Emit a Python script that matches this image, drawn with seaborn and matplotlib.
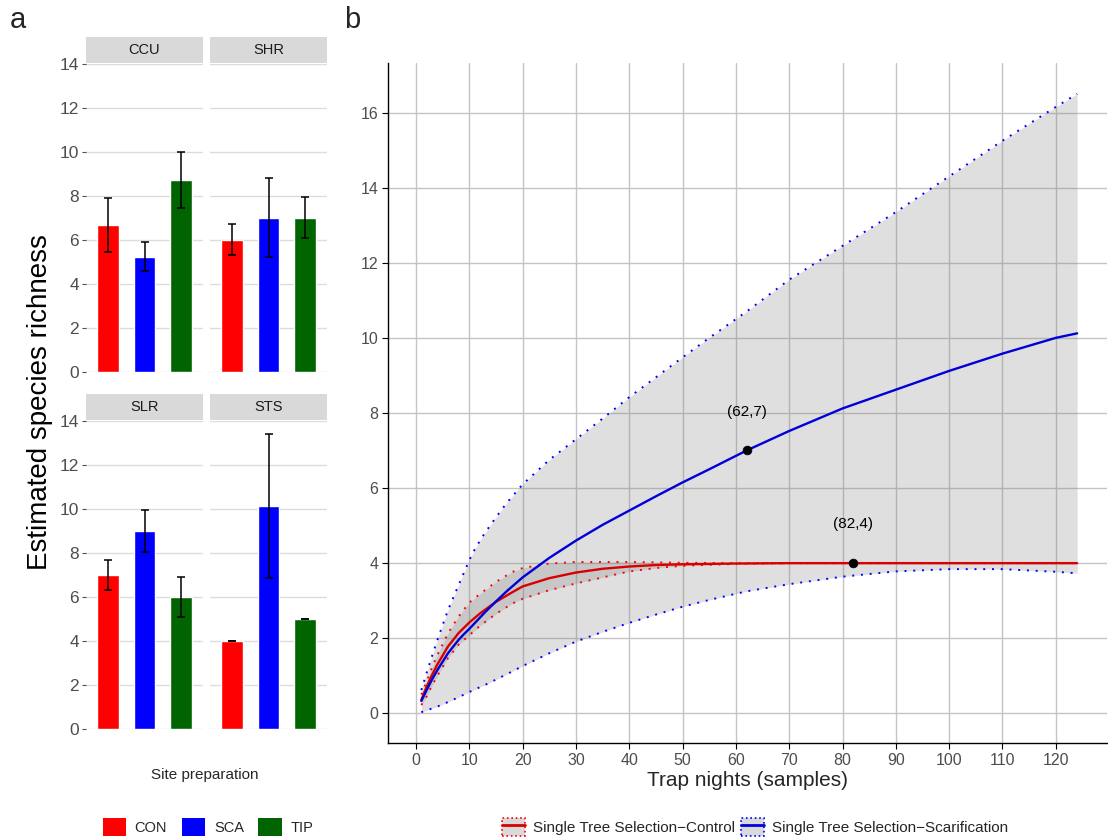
import numpy as np
import pandas as pd
import matplotlib
matplotlib.use("Agg")
import matplotlib.pyplot as plt
import seaborn as sns
from matplotlib.patches import Patch
from matplotlib.lines import Line2D
from matplotlib.legend_handler import HandlerTuple

# ---------------- data: panel a ----------------
sites = ["CCU", "SHR", "SLR", "STS"]
treatments = ["CON", "SCA", "TIP"]
bar_colors = ["#FF0000", "#0000FF", "#006400"]

ccu_est = [6.68, 5.22, 8.72]
ccu_low = [5.46, 4.61, 7.46]
ccu_high = [7.92, 5.91, 10.00]
shr_est = [6.00, 7.00, 7.00]
shr_low = [5.34, 5.22, 6.07]
shr_high = [6.71, 8.82, 7.96]
slr_est = [6.98, 8.98, 5.98]
slr_low = [6.30, 8.03, 5.07]
slr_high = [7.68, 9.96, 6.92]
sts_est = [4.00, 10.12, 5.00]
sts_low = [3.98, 6.86, 4.98]
sts_high = [4.02, 13.42, 5.02]

# ---------------- data: panel b ----------------
ctrl_x = [1, 2, 3, 4, 6, 8, 10, 12, 15, 18, 20, 25, 30, 35, 40, 45, 50, 60, 70, 82, 100, 124]
ctrl_est = [0.36, 0.71, 1.02, 1.30, 1.78, 2.14, 2.42, 2.66, 2.97, 3.22, 3.38, 3.60, 3.75, 3.85, 3.91, 3.95, 3.97, 3.99, 4.00, 4.00, 4.00, 4.00]
ctrl_lcl = [0.22, 0.45, 0.74, 1.00, 1.47, 1.83, 2.08, 2.33, 2.65, 2.92, 3.05, 3.28, 3.46, 3.62, 3.78, 3.87, 3.93, 3.98, 4.00, 4.00, 4.00, 4.00]
ctrl_ucl = [0.50, 0.84, 1.22, 1.55, 2.13, 2.58, 2.95, 3.18, 3.50, 3.76, 3.87, 3.99, 4.03, 4.03, 4.03, 4.02, 4.01, 4.00, 4.00, 4.00, 4.00, 4.00]

scar_x = [1, 2, 3, 4, 6, 8, 9, 10, 11, 12, 13, 15, 17, 20, 25, 30, 35, 40, 45, 50, 55, 62, 70, 80, 90, 100, 110, 120, 124]
scar_est = [0.33, 0.62, 0.90, 1.15, 1.60, 1.96, 2.11, 2.25, 2.40, 2.55, 2.70, 2.98, 3.25, 3.62, 4.14, 4.60, 5.02, 5.40, 5.78, 6.15, 6.50, 7.00, 7.52, 8.12, 8.62, 9.12, 9.58, 10.00, 10.12]
scar_lcl = [0.03, 0.08, 0.13, 0.18, 0.30, 0.43, 0.50, 0.57, 0.63, 0.70, 0.76, 0.90, 1.04, 1.26, 1.60, 1.91, 2.17, 2.41, 2.63, 2.84, 3.02, 3.25, 3.44, 3.64, 3.78, 3.84, 3.84, 3.77, 3.73]
scar_ucl = [0.62, 1.08, 1.52, 1.95, 2.75, 3.42, 3.75, 4.08, 4.36, 4.60, 4.82, 5.22, 5.60, 6.10, 6.75, 7.30, 7.85, 8.42, 8.95, 9.48, 10.00, 10.70, 11.55, 12.45, 13.35, 14.30, 15.25, 16.15, 16.50]

ref_x = [62, 82]
ref_y = [7, 4]
ref_labels = ["(62,7)", "(82,4)"]

series_labels = ["Single Tree Selection\u2212Control", "Single Tree Selection\u2212Scarification"]

# ---------------- style ----------------
sns.set_style("white")
plt.rcParams["font.family"] = ["Liberation Sans", "DejaVu Sans"]
GRID_A = "#dcdcdc"
GRID_B = "#c4c4c4"
TICKC = "#4d4d4d"

W, H = 1108, 839
fig = plt.figure(figsize=(W / 100, H / 100), dpi=100)

def fx(px):
    return px / W

def fy(px):
    return 1 - px / H

# ---------------- panel a ----------------
facet_data = [
    ("CCU", ccu_est, ccu_low, ccu_high, 86, 64, True),
    ("SHR", shr_est, shr_low, shr_high, 210, 64, False),
    ("SLR", slr_est, slr_low, slr_high, 86, 421, True),
    ("STS", sts_est, sts_low, sts_high, 210, 421, False),
]
pw, ph = 117, 308
for name, est, lo, hi, x0, y0, show_y in facet_data:
    ax = fig.add_axes([fx(x0), fy(y0 + ph), fx(pw), ph / H])
    df = pd.DataFrame({"treatment": treatments, "richness": est})
    sns.barplot(data=df, x="treatment", y="richness", hue="treatment",
                order=treatments, hue_order=treatments, palette=bar_colors,
                width=0.6, errorbar=None, legend=False, ax=ax, saturation=1,
                zorder=2)
    est_a = np.array(est)
    yerr = [est_a - np.array(lo), np.array(hi) - est_a]
    ax.errorbar(x=np.arange(len(treatments)), y=est_a, yerr=yerr, fmt="none",
                ecolor="black", elinewidth=1.1, capsize=2.8, capthick=1.1, zorder=3)
    ax.set_xlim(-0.6, 2.6)
    ax.set_ylim(0, 14)
    ax.set_yticks(range(0, 15, 2))
    ax.yaxis.grid(True, color=GRID_A, lw=1)
    ax.xaxis.grid(False)
    ax.set_axisbelow(True)
    for s in ax.spines.values():
        s.set_visible(False)
    ax.set_xticks([])
    ax.set_xlabel("")
    ax.set_ylabel("")
    if show_y:
        ax.tick_params(axis="y", left=True, length=3, width=0.8, color=TICKC,
                       labelsize=12.5, labelcolor=TICKC, pad=2)
    else:
        ax.tick_params(axis="y", left=False, labelleft=False)
    # strip
    sax = fig.add_axes([fx(x0), fy(y0 - 1), fx(pw), 26 / H])
    sax.set_facecolor("#d9d9d9")
    sax.set_xticks([]); sax.set_yticks([])
    for s in sax.spines.values():
        s.set_visible(False)
    sax.text(0.5, 0.5, name, ha="center", va="center", fontsize=10.5, color="#1a1a1a",
             transform=sax.transAxes)

fig.text(fx(40), fy(402), "Estimated species richness", rotation=90,
         ha="center", va="center", fontsize=20, color="black")
fig.text(fx(205), fy(775), "Site preparation", ha="center", va="center", fontsize=11)

handles_a = [Patch(facecolor=c, edgecolor="none") for c in bar_colors]
fig.legend(handles_a, treatments, loc="center", bbox_to_anchor=(fx(208), fy(827)),
           ncol=3, frameon=False, fontsize=10.5, handlelength=1.6, handleheight=1.6,
           columnspacing=1.0, handletextpad=0.6)

# ---------------- panel b ----------------
axb = fig.add_axes([fx(388), fy(743), fx(719), 680 / H])
axb.set_facecolor("white")
axb.fill_between(scar_x, scar_lcl, scar_ucl, color="#808080", alpha=0.25, lw=0, zorder=1)
axb.fill_between(ctrl_x, ctrl_lcl, ctrl_ucl, color="#808080", alpha=0.25, lw=0, zorder=1)

dot = (0, (1, 3.5))
kw = dict(sort=False, estimator=None, zorder=3)
sns.lineplot(x=scar_x, y=scar_ucl, ax=axb, color="#0000FF", lw=1.4, linestyle=dot, **kw)
sns.lineplot(x=scar_x, y=scar_lcl, ax=axb, color="#0000FF", lw=1.4, linestyle=dot, **kw)
sns.lineplot(x=ctrl_x, y=ctrl_ucl, ax=axb, color="#FF0000", lw=1.4, linestyle=dot, **kw)
sns.lineplot(x=ctrl_x, y=ctrl_lcl, ax=axb, color="#FF0000", lw=1.4, linestyle=dot, **kw)
sns.lineplot(x=ctrl_x, y=ctrl_est, ax=axb, color="#D80000", lw=1.7, sort=False, estimator=None, zorder=4)
sns.lineplot(x=scar_x, y=scar_est, ax=axb, color="#0000D8", lw=1.7, sort=False, estimator=None, zorder=5)
sns.scatterplot(x=ref_x, y=ref_y, ax=axb, color="black", s=40, edgecolor="black", zorder=6)
for xv, yv, lab in zip(ref_x, ref_y, ref_labels):
    axb.text(xv, yv + 1.03, lab, ha="center", va="center", fontsize=11, color="black", zorder=7)

axb.set_xlim(-5.25, 129.6)
axb.set_ylim(-0.79, 17.32)
axb.set_xticks(range(0, 121, 10))
axb.set_yticks(range(0, 17, 2))
axb.grid(True, color=GRID_B, lw=1)
axb.set_axisbelow(True)
for side in ["top", "right"]:
    axb.spines[side].set_visible(False)
for side in ["left", "bottom"]:
    axb.spines[side].set_color("black")
    axb.spines[side].set_linewidth(1.0)
axb.tick_params(axis="both", length=4, width=0.8, color="black", labelsize=11.5,
                labelcolor=TICKC, pad=3, bottom=True, left=True)
axb.set_xlabel("Trap nights (samples)", fontsize=15, labelpad=2)
axb.set_ylabel("")

h_ctrl = (Patch(facecolor="#d9d9d9", edgecolor="#FF0000", linestyle=":", lw=1.2),
          Line2D([], [], color="#D80000", lw=2))
h_scar = (Patch(facecolor="#d9d9d9", edgecolor="#0000FF", linestyle=":", lw=1.2),
          Line2D([], [], color="#0000D8", lw=2))
fig.legend([h_ctrl, h_scar], series_labels, loc="center",
           bbox_to_anchor=(fx(755), fy(827)), ncol=2, frameon=False, fontsize=11,
           handler_map={tuple: HandlerTuple(ndivide=1, pad=0)},
           handlelength=1.5, handleheight=1.5, columnspacing=0.4, handletextpad=0.5)

fig.text(fx(18), fy(20), "a", ha="center", va="center", fontsize=21)
fig.text(fx(352), fy(20), "b", ha="center", va="center", fontsize=21)

fig.savefig("out.png", dpi=100)
